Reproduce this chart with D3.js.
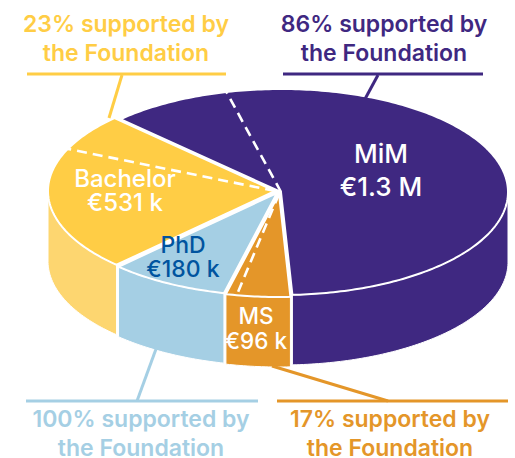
<!DOCTYPE html>
<html>
<head>
<meta charset="utf-8">
<script src="https://cdn.jsdelivr.net/npm/d3@7"></script>
<style>
  html, body { margin: 0; padding: 0; background: #fff; }
  text { font-family: Inter, "Open Sans", sans-serif; }
</style>
</head>
<body>
<div id="chart"></div>
<script>
// values
var programmes = ["MiM", "MS", "PhD", "Bachelor"];
var amounts = [1300, 96, 180, 531];
var amountLabels = ["€1.3 M", "€96 k", "€180 k", "€531 k"];
var supportShare = [86, 17, 100, 23];

var topColors = ["#3f2881", "#e49629", "#a5cfe4", "#ffcd45"];
var sideColors = ["#3f2881", "#e49629", "#a5cfe4", "#fdd670"];
var inkColors = ["#ffffff", "#ffffff", "#00549f", "#ffffff"];

function init() {
    var w = 515;
    var h = 458;
    var depth = 70;

    // the tilted disc: sin/cos of the slice angle to page position
    var x = d3.scaleLinear().domain([-1, 1]).range([54, 508]);
    var y = d3.scaleLinear().domain([-1, 1]).range([295, 89]);

    // each slice is pulled a little away from the others
    var nudges = [[0, 0], [-2, 2], [-4, 1], [-6, -1]];

    var labelPos = [[381, 163, 196, 26], [256, 324, 349, 22.5], [183, 253, 277, 23], [125, 187, 211, 24]];

    // callouts: text centre, rule, leader
    var callouts = [
        { i: 3, cx: 126, base: [32, 61], rule: [27, 226, 74], leader: [[122, 75], [109, 118]] },
        { i: 0, cx: 384, base: [32, 61], rule: [283, 483, 74], leader: [[378, 75], [365, 99]] },
        { i: 2, cx: 141, base: [427, 456], rule: [26, 258, 401], leader: [[156, 349], [137, 401]] },
        { i: 1, cx: 390, base: [427, 456], rule: [277, 508, 401], leader: [[272, 366], [388, 401]] }
    ];

    var svg = d3.select("#chart")
                .append("svg")
                .attr("width", w)
                .attr("height", h)
                .style("display", "block");

    var pie = d3.pie()
                .sort(null)
                .startAngle(-Math.PI / 4)
                .endAngle(Math.PI * 7 / 4);
    var slices = pie(amounts);

    var line = d3.line();

    function rim(a, i, drop) {
        return [x(Math.sin(a)) + nudges[i][0], y(Math.cos(a)) + nudges[i][1] + (drop || 0)];
    }

    function rimPoints(a0, a1, i, drop) {
        var n = Math.max(2, Math.ceil(Math.abs(a1 - a0) * 60));
        return d3.range(n + 1).map(function(k) {
            return rim(a0 + (a1 - a0) * k / n, i, drop);
        });
    }

    // walls first, only the front half of the disc shows
    slices.forEach(function(d, i) {
        var a0 = Math.max(d.startAngle, Math.PI / 2);
        var a1 = Math.min(d.endAngle, Math.PI * 3 / 2);
        if (a1 <= a0) return;
        var pts = rimPoints(a0, a1, i, 0).concat(rimPoints(a1, a0, i, depth));
        svg.append("path")
           .attr("d", line(pts) + "Z")
           .attr("fill", sideColors[i])
           .attr("stroke", "#fff")
           .attr("stroke-width", 1);
    });

    // top faces
    slices.forEach(function(d, i) {
        var c = [x(0) + nudges[i][0], y(0) + nudges[i][1]];
        var pts = [c].concat(rimPoints(d.startAngle, d.endAngle, i, 0));
        svg.append("path")
           .attr("d", line(pts) + "Z")
           .attr("fill", topColors[i])
           .attr("stroke", "#fff")
           .attr("stroke-width", 2)
           .attr("stroke-linejoin", "round");
    });

    // dashed split: the supported part runs up to the end of the slice
    slices.forEach(function(d, i) {
        if (supportShare[i] >= 100) return;
        var sweep = d.endAngle - d.startAngle;
        var a = i === 0 ? d.startAngle + sweep * (100 - supportShare[i]) / 100
                        : d.endAngle - sweep * supportShare[i] / 100;
        if (i === 1) a = d.endAngle - sweep * supportShare[i] / 100;
        svg.append("path")
           .attr("d", line([[x(0) + nudges[i][0], y(0) + nudges[i][1]], rim(a, i, 0)]))
           .attr("stroke", "#fff")
           .attr("stroke-width", 2.6)
           .attr("stroke-dasharray", "10 6");
    });

    // slice labels
    programmes.forEach(function(name, i) {
        var p = labelPos[i];
        var t = svg.append("g")
                   .attr("text-anchor", "middle")
                   .attr("fill", inkColors[i])
                   .attr("font-size", p[3])
                   .attr("font-weight", 500);
        t.append("text").attr("x", p[0]).attr("y", p[1]).text(name);
        t.append("text").attr("x", p[0]).attr("y", p[2]).text(amountLabels[i]);
    });

    // callouts
    callouts.forEach(function(c) {
        var col = topColors[c.i];
        svg.append("path")
           .attr("d", line(c.leader))
           .attr("fill", "none")
           .attr("stroke", col)
           .attr("stroke-width", 3);
        svg.append("line")
           .attr("x1", c.rule[0]).attr("x2", c.rule[1])
           .attr("y1", c.rule[2]).attr("y2", c.rule[2])
           .attr("stroke", col)
           .attr("stroke-width", 3);
        var t = svg.append("g")
                   .attr("text-anchor", "middle")
                   .attr("fill", col)
                   .attr("font-size", 23)
                   .attr("font-weight", 600);
        t.append("text").attr("x", c.cx).attr("y", c.base[0])
         .text(supportShare[c.i] + "% supported by");
        t.append("text").attr("x", c.cx).attr("y", c.base[1])
         .text("the Foundation");
    });
}
window.onload = init;
</script>
</body>
</html>
